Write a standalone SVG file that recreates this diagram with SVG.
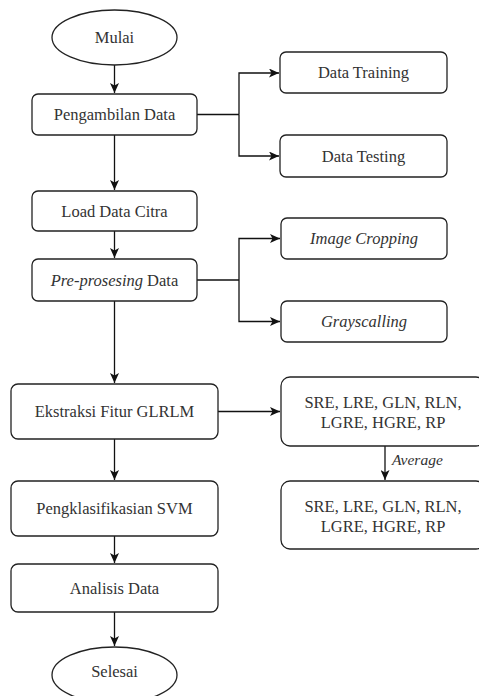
<svg xmlns="http://www.w3.org/2000/svg" width="479" height="696" viewBox="0 0 479 696">
<style>
.box{fill:#fff;stroke:#222;stroke-width:1.3}
text{font-family:'Times New Roman',Times,'Liberation Serif',Tinos,'Noto Serif','DejaVu Serif',FreeSerif,serif;font-size:16.5px;fill:#333;text-anchor:middle}
.i{font-style:italic}
.c{fill:none;stroke:#111;stroke-width:1.3}
</style>
<defs>
<marker id="ah" markerWidth="11" markerHeight="9" refX="10" refY="4.5" orient="auto" markerUnits="userSpaceOnUse">
<path d="M0,0 L10,4.5 L0,9 L2.5,4.5 Z" fill="#111"/>
</marker>
</defs>
<rect width="479" height="696" fill="#fff"/>
<g id="connectors">
<path class="c" d="M114.5,65 V93" marker-end="url(#ah)"/>
<path class="c" d="M114.5,135 V190" marker-end="url(#ah)"/>
<path class="c" d="M114.5,231 V258" marker-end="url(#ah)"/>
<path class="c" d="M114.5,301 V383" marker-end="url(#ah)"/>
<path class="c" d="M114.5,439 V480" marker-end="url(#ah)"/>
<path class="c" d="M114.5,536 V563" marker-end="url(#ah)"/>
<path class="c" d="M114.5,612 V646" marker-end="url(#ah)"/>
<path class="c" d="M197,114.5 H239"/>
<path class="c" d="M239,114.5 V73 H279" marker-end="url(#ah)"/>
<path class="c" d="M239,114.5 V156 H279" marker-end="url(#ah)"/>
<path class="c" d="M197,280 H239"/>
<path class="c" d="M239,280 V238.5 H280" marker-end="url(#ah)"/>
<path class="c" d="M239,280 V321.5 H280" marker-end="url(#ah)"/>
<path class="c" d="M218,411.5 H280" marker-end="url(#ah)"/>
<path class="c" d="M385,446 V480" marker-end="url(#ah)"/>
<text class="i" x="392" y="465" style="text-anchor:start;font-size:15.5px">Average</text>
</g>
<g id="mulai"><ellipse class="box" cx="114.5" cy="37.5" rx="62.5" ry="27.5"/><text x="114.5" y="43">Mulai</text></g>
<g id="pengambilan"><rect class="box" x="32" y="94" width="165" height="41" rx="6"/><text x="114.5" y="120">Pengambilan Data</text></g>
<g id="load"><rect class="box" x="32" y="191" width="165" height="40" rx="6"/><text x="114.5" y="217">Load Data Citra</text></g>
<g id="preproses"><rect class="box" x="32" y="259" width="165" height="42" rx="6"/><text x="114.5" y="286"><tspan class="i">Pre-prosesing</tspan> Data</text></g>
<g id="ekstraksi"><rect class="box" x="11" y="384" width="207" height="55" rx="7"/><text x="114.5" y="417">Ekstraksi Fitur GLRLM</text></g>
<g id="svm"><rect class="box" x="11" y="481" width="207" height="55" rx="7"/><text x="114.5" y="514">Pengklasifikasian SVM</text></g>
<g id="analisis"><rect class="box" x="11" y="564" width="207" height="48" rx="7"/><text x="114.5" y="594">Analisis Data</text></g>
<g id="selesai"><ellipse class="box" cx="114.5" cy="675" rx="62.5" ry="28"/><text x="114.5" y="677">Selesai</text></g>
<g id="training"><rect class="box" x="280" y="52" width="167" height="41" rx="6"/><text x="363.5" y="78">Data Training</text></g>
<g id="testing"><rect class="box" x="280" y="135" width="167" height="42" rx="6"/><text x="363.5" y="162">Data Testing</text></g>
<g id="cropping"><rect class="box" x="281" y="218" width="166" height="41" rx="6"/><text class="i" x="364" y="244">Image Cropping</text></g>
<g id="grayscalling"><rect class="box" x="281" y="301" width="166" height="41" rx="6"/><text class="i" x="364" y="327">Grayscalling</text></g>
<g id="fitur1"><rect class="box" x="281" y="377" width="204" height="69" rx="9"/><text x="383" y="408">SRE, LRE, GLN, RLN,</text><text x="383" y="428">LGRE, HGRE, RP</text></g>
<g id="fitur2"><rect class="box" x="281" y="481" width="204" height="68" rx="9"/><text x="383" y="512">SRE, LRE, GLN, RLN,</text><text x="383" y="532">LGRE, HGRE, RP</text></g>
</svg>
